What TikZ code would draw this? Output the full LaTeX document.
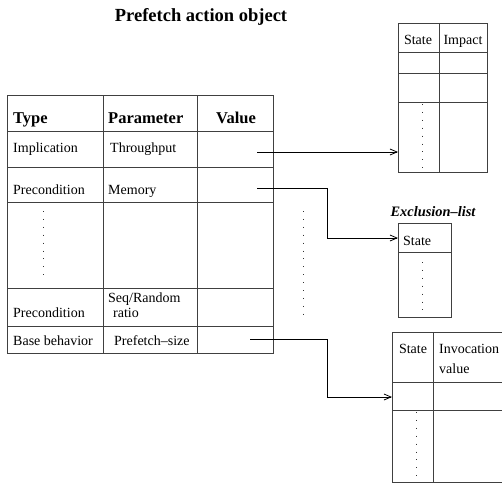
\documentclass[tikz,border=0pt]{standalone}
\usepackage{fontspec}
\setmainfont{Liberation Serif}
\usetikzlibrary{arrows.meta}
\begin{document}
\begin{tikzpicture}[x=1pt,y=-1pt,
  tline/.style={line width=0.8pt,draw=black!75},
  arr/.style={line width=0.8pt,draw=black,-{Straight Barb[length=7pt,width=6pt]}},
  dots/.style={line width=1pt,dash pattern=on 0.9pt off 7pt,draw=black!80},
  txt/.style={font=\fontsize{14}{16}\selectfont,inner sep=0pt,anchor=base west},
  txtc/.style={font=\fontsize{14}{16}\selectfont,inner sep=0pt,anchor=base},
  hdr/.style={font=\fontsize{16.5}{18}\selectfont\bfseries,inner sep=0pt,anchor=base west},
  box/.style={tline,rectangle,inner sep=0pt,anchor=north west}]
\useasboundingbox (0,0) rectangle (502,487);
\fill[white] (0,0) rectangle (502,487);

% title
\node[font=\fontsize{18.5}{20}\selectfont\bfseries,inner sep=0pt,anchor=base] (title) at (201,22) {Prefetch action object};

% main table
\node[box,minimum width=266pt,minimum height=258pt] (main) at (7,95) {};
\draw[tline] (103,95) -- (103,353);
\draw[tline] (197,95) -- (197,353);
\foreach \yy in {131,167,202,288,326} \draw[tline] (7,\yy) -- (273,\yy);

\node[hdr] (hType) at (13,123) {Type};
\node[hdr] (hPar) at (108,123) {Parameter};
\node[hdr,anchor=base] (hVal) at (236,123) {Value};

\node[txt] (t1) at (13,152) {Implication};
\node[txt] (p1) at (110,152) {Throughput};
\node[txt] (t2) at (13,194) {Precondition};
\node[txt] (p2) at (108,194) {Memory};
\node[txt] (p3a) at (108,302) {Seq/Random};
\node[txt] (p3b) at (113,317) {ratio};
\node[txt] (t3) at (13,317) {Precondition};
\node[txt] (t4) at (13,345) {Base behavior};
\node[txt] (p4) at (114,345) {Prefetch–size};

\draw[dots] (43,211) -- (43,280);
\draw[dots] (303,211) -- (303,314);

% impact table
\node[box,minimum width=89pt,minimum height=149pt] (imp) at (398,23) {};
\draw[tline] (439,23) -- (439,172);
\foreach \yy in {52,73,102} \draw[tline] (398,\yy) -- (487,\yy);
\node[txtc] (iS) at (418,45) {State};
\node[txtc] (iI) at (463,45) {Impact};
\draw[dots] (422,104) -- (422,172);

% exclusion list
\node[font=\fontsize{14.4}{16}\selectfont\bfseries\itshape,inner sep=0pt,anchor=base] (exl) at (433,216) {Exclusion–list};
\node[box,minimum width=53pt,minimum height=94pt] (exc) at (398,223) {};
\draw[tline] (398,252) -- (451,252);
\node[txt] (eS) at (403,245) {State};
\draw[dots] (422,262) -- (422,310);

% invocation table
\coordinate (invTL) at (392,332);
\coordinate (invBL) at (392,482);
\draw[tline] (505,332) -- (invTL) -- (invBL) -- (505,482);
\draw[tline] (433,332) -- (433,482);
\foreach \yy in {382,410} \draw[tline] (392,\yy) -- (505,\yy);
\node[txtc] (vS) at (413,353) {State};
\node[txt] (vI) at (439,353) {Invocation};
\node[txt] (vV) at (439,373) {value};
\draw[dots] (416,412) -- (416,482);

% connectors
\coordinate (s1) at (257,152);
\coordinate (s2) at (257,188);
\coordinate (s3) at (250,339);
\draw[arr] (s1) -- (s1 -| imp.west);
\draw[arr] (s2) -- (327,188) -- (327,238) -- (exc.west |- 0,238);
\draw[arr] (s3) -- (327,339) -- (327,397) -- (invTL |- 0,397);
\end{tikzpicture}
\end{document}
